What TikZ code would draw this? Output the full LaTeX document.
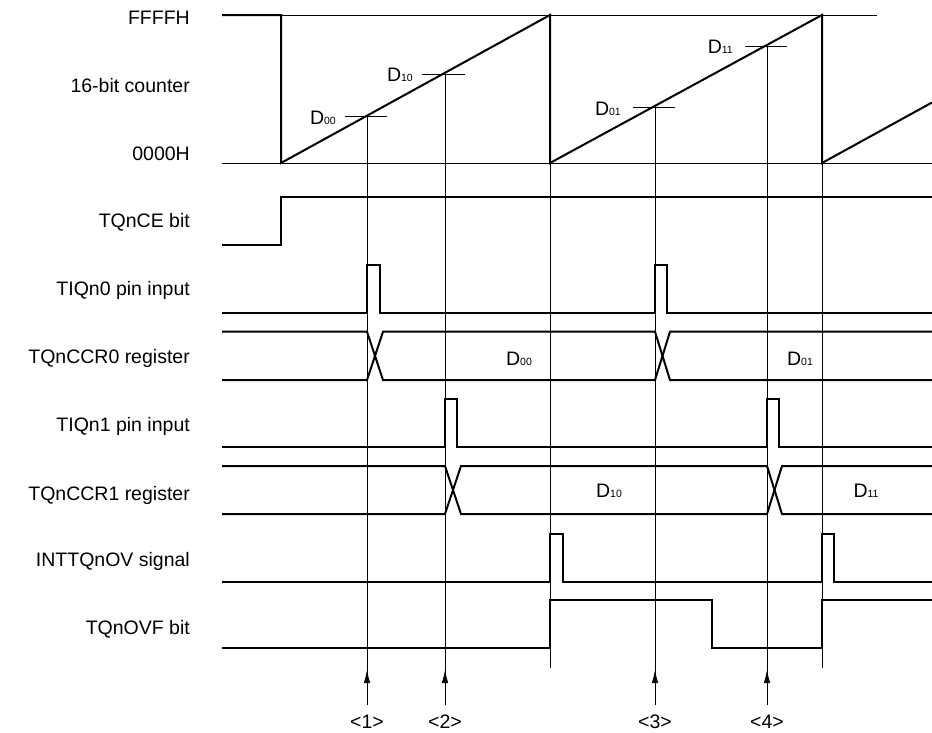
\documentclass[tikz,border=0pt]{standalone}
\usepackage{fontspec}
\setmainfont{Liberation Sans}
\usetikzlibrary{arrows.meta}
\newcommand\Dsub[1]{D{\fontsize{10.5}{10.5}\selectfont #1}}
\begin{document}
\begin{tikzpicture}[x=1pt,y=-1pt,
  sig/.style={line width=2pt, line join=miter},
  guide/.style={line width=0.7pt},
  lbl/.style={anchor=base east, font=\fontsize{19.5}{20}\selectfont, inner sep=0pt},
  dlbl/.style={anchor=base, font=\fontsize{19.5}{20}\selectfont, inner sep=0pt},
  tlbl/.style={anchor=base east, font=\fontsize{19.5}{20}\selectfont, inner sep=0pt},
  uparrow/.style={guide, -{Latex[length=13pt,width=6.5pt]}}]
\useasboundingbox (0,0) rectangle (932,732);

% ---- left labels
\node[lbl] (lF) at (190,24) {FFFFH};
\node[lbl] (lC) at (190,92) {16-bit counter};
\node[lbl] (l0) at (190,160) {0000H};
\node[lbl] (lCE) at (190,227.7) {TQnCE bit};
\node[lbl] (lI0) at (190,295) {TIQn0 pin input};
\node[lbl] (lR0) at (190,363.3) {TQnCCR0 register};
\node[lbl] (lI1) at (190,431.7) {TIQn1 pin input};
\node[lbl] (lR1) at (190,500) {TQnCCR1 register};
\node[lbl] (lOV) at (190,566.7) {INTTQnOV signal};
\node[lbl] (lOVF) at (190,634.5) {TQnOVF bit};

% ---- counter reference lines
\draw[guide] (222,15) -- (877,15);
\draw[guide] (222,163) -- (932,163);

% ---- counter ramp
\draw[sig] (222,15) -- (281,15) -- (281,163) -- (550,15) -- (550,163)
  -- (822,15) -- (822,163) -- (932,102.5);

% ---- capture ticks and labels
\coordinate (t1) at (367,116.7);
\coordinate (t2) at (445,74.7);
\coordinate (t3) at (655,107.3);
\coordinate (t4) at (767,46);
\draw[guide] (345,116.7) -- (387,116.7);
\draw[guide] (422,74.7) -- (465,74.7);
\draw[guide] (633,107.3) -- (675,107.3);
\draw[guide] (745,46) -- (787,46);
\node[tlbl] (cD00) at (336,124) {\Dsub{00}};
\node[tlbl] (cD10) at (413,81) {\Dsub{10}};
\node[tlbl] (cD01) at (621,115) {\Dsub{01}};
\node[tlbl] (cD11) at (733,53.3) {\Dsub{11}};

% ---- vertical guides
\coordinate (b1) at (367,705);
\coordinate (b2) at (445,705);
\coordinate (b3) at (655,705);
\coordinate (b4) at (767,705);
\draw[guide] (t1) -- (b1);
\draw[guide] (t2) -- (b2);
\draw[guide] (t3) -- (b3);
\draw[guide] (t4) -- (b4);
\draw[guide] (550,163) -- (550,668);
\draw[guide] (822,163) -- (822,668);

% ---- arrows and numbers
\draw[uparrow] (b1) -- (367,670);
\draw[uparrow] (b2) -- (445,670);
\draw[uparrow] (b3) -- (655,670);
\draw[uparrow] (b4) -- (767,670);
\node[dlbl] (n1) at (367,728) {<1>};
\node[dlbl] (n2) at (445,728) {<2>};
\node[dlbl] (n3) at (655,728) {<3>};
\node[dlbl] (n4) at (767,728) {<4>};

% ---- TQnCE bit
\draw[sig] (222,245) -- (281,245) -- (281,197) -- (932,197);

% ---- TIQn0 pin input
\draw[sig] (222,312.7) -- (367,312.7) -- (367,265) -- (380,265) -- (380,312.7)
  -- (655,312.7) -- (655,265) -- (667,265) -- (667,312.7) -- (932,312.7);

% ---- TQnCCR0 register
\draw[sig] (222,331.7) -- (367,331.7) -- (383,380) -- (655,380) -- (670,331.7) -- (932,331.7);
\draw[sig] (222,380) -- (367,380) -- (383,331.7) -- (655,331.7) -- (670,380) -- (932,380);
\node[dlbl] (rD00) at (519,365) {\Dsub{00}};
\node[dlbl] (rD01) at (800,365) {\Dsub{01}};

% ---- TIQn1 pin input
\draw[sig] (222,446.7) -- (445,446.7) -- (445,399.3) -- (457,399.3) -- (457,446.7)
  -- (767,446.7) -- (767,399.3) -- (779,399.3) -- (779,446.7) -- (932,446.7);

% ---- TQnCCR1 register
\draw[sig] (222,466) -- (445,466) -- (461,514) -- (767,514) -- (782,466) -- (932,466);
\draw[sig] (222,514) -- (445,514) -- (461,466) -- (767,466) -- (782,514) -- (932,514);
\node[dlbl] (rD10) at (609,497.3) {\Dsub{10}};
\node[dlbl] (rD11) at (866,497.3) {\Dsub{11}};

% ---- INTTQnOV signal
\draw[sig] (222,581.7) -- (550,581.7) -- (550,534) -- (563,534) -- (563,581.7)
  -- (822,581.7) -- (822,534) -- (834,534) -- (834,581.7) -- (932,581.7);

% ---- TQnOVF bit
\draw[sig] (222,648.3) -- (550,648.3) -- (550,600) -- (712,600) -- (712,648.3)
  -- (822,648.3) -- (822,600) -- (932,600);
\end{tikzpicture}
\end{document}
